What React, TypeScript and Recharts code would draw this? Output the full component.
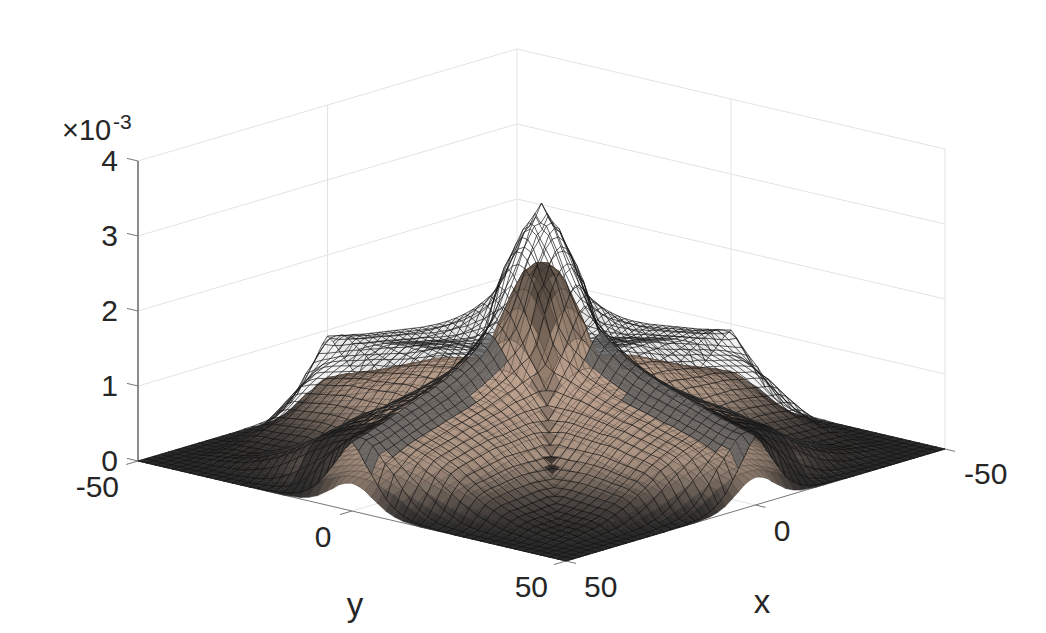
import { ScatterChart, Scatter, XAxis, YAxis } from 'recharts';

const W = 1046;
const H = 633;

// grid nodes of one quadrant (the surfaces repeat across both axes and the diagonal)
const nodes = [0, 1.5, 3, 4.5, 6, 8, 10, 12, 14, 16, 18, 20, 22, 24, 26, 28, 30, 32, 34, 36, 38, 40, 42, 44, 46, 48, 50];

// wire mesh height (x 1e-3), row = larger of |x|,|y|, column = smaller
const meshRows = [
  [3.36],
  [3.2, 3.05],
  [3.06, 2.99, 2.8],
  [2.84, 2.79, 2.64, 2.4],
  [2.63, 2.59, 2.47, 2.29, 2.05],
  [2.38, 2.28, 2.1, 1.88, 1.67, 1.43],
  [2.12, 2.04, 1.88, 1.7, 1.53, 1.35, 1.14],
  [1.96, 1.88, 1.76, 1.6, 1.47, 1.32, 1.16, 1.0],
  [1.84, 1.78, 1.66, 1.52, 1.4, 1.28, 1.14, 1.0, 0.86],
  [1.73, 1.67, 1.56, 1.44, 1.34, 1.23, 1.12, 1.0, 0.87, 0.75],
  [1.64, 1.58, 1.49, 1.38, 1.29, 1.2, 1.11, 1.0, 0.89, 0.78, 0.64],
  [1.56, 1.5, 1.41, 1.32, 1.24, 1.16, 1.08, 0.99, 0.89, 0.8, 0.67, 0.54],
  [1.49, 1.44, 1.36, 1.26, 1.18, 1.12, 1.04, 0.97, 0.87, 0.79, 0.66, 0.55, 0.44],
  [1.43, 1.38, 1.3, 1.21, 1.14, 1.08, 1.02, 0.95, 0.86, 0.78, 0.66, 0.55, 0.45, 0.36],
  [1.38, 1.33, 1.26, 1.17, 1.1, 1.05, 0.99, 0.93, 0.84, 0.77, 0.66, 0.56, 0.46, 0.37, 0.3],
  [1.33, 1.28, 1.21, 1.13, 1.07, 1.02, 0.96, 0.9, 0.84, 0.76, 0.66, 0.56, 0.47, 0.38, 0.31, 0.24],
  [1.29, 1.24, 1.18, 1.1, 1.04, 0.99, 0.95, 0.89, 0.83, 0.76, 0.66, 0.56, 0.47, 0.39, 0.32, 0.26, 0.2],
  [1.25, 1.2, 1.14, 1.07, 1.01, 0.97, 0.92, 0.86, 0.8, 0.74, 0.64, 0.55, 0.46, 0.38, 0.31, 0.25, 0.2, 0.15],
  [1.21, 1.16, 1.11, 1.03, 0.97, 0.93, 0.88, 0.84, 0.78, 0.71, 0.62, 0.53, 0.45, 0.37, 0.3, 0.24, 0.19, 0.15, 0.11],
  [1.17, 1.13, 1.07, 1.0, 0.95, 0.9, 0.86, 0.81, 0.75, 0.69, 0.6, 0.51, 0.43, 0.36, 0.29, 0.23, 0.18, 0.14, 0.11, 0.08],
  [1.13, 1.09, 1.03, 0.96, 0.91, 0.87, 0.83, 0.78, 0.72, 0.67, 0.58, 0.49, 0.42, 0.34, 0.28, 0.22, 0.18, 0.14, 0.1, 0.08, 0.06],
  [1.09, 1.05, 1.0, 0.93, 0.88, 0.84, 0.8, 0.75, 0.7, 0.64, 0.56, 0.48, 0.4, 0.33, 0.27, 0.22, 0.17, 0.13, 0.1, 0.08, 0.06, 0.04],
  [1.05, 1.01, 0.96, 0.89, 0.84, 0.8, 0.76, 0.71, 0.64, 0.59, 0.5, 0.42, 0.35, 0.28, 0.23, 0.18, 0.14, 0.1, 0.08, 0.06, 0.04, 0.03, 0.02],
  [1.02, 0.98, 0.92, 0.85, 0.79, 0.74, 0.68, 0.6, 0.54, 0.46, 0.38, 0.3, 0.23, 0.17, 0.13, 0.09, 0.06, 0.04, 0.03, 0.02, 0.01, 0.01],
  [0.98, 0.95, 0.89, 0.81, 0.74, 0.64, 0.54, 0.45, 0.35, 0.27, 0.19, 0.13, 0.08, 0.05, 0.03, 0.02, 0.01],
  [0.95, 0.94, 0.88, 0.78, 0.68, 0.56, 0.4, 0.27, 0.17, 0.1, 0.06, 0.03, 0.02, 0.01],
  [0.92, 0.82, 0.68, 0.55, 0.42, 0.26, 0.16, 0.09, 0.05, 0.03, 0.02, 0.01, 0.01],
];

// lower filled surface height (x 1e-3), same layout
const surfaceRows = [
  [2.57],
  [2.54, 2.5],
  [2.45, 2.42, 2.3],
  [2.28, 2.24, 2.12, 1.96],
  [2.05, 2.0, 1.9, 1.76, 1.55],
  [1.66, 1.63, 1.56, 1.46, 1.32, 1.18],
  [1.28, 1.27, 1.25, 1.2, 1.15, 1.05, 0.94],
  [1.18, 1.17, 1.15, 1.12, 1.07, 0.99, 0.89, 0.79],
  [1.12, 1.11, 1.1, 1.07, 1.02, 0.95, 0.87, 0.78, 0.69],
  [1.07, 1.06, 1.05, 1.02, 0.98, 0.92, 0.84, 0.76, 0.67, 0.58],
  [1.03, 1.02, 1.01, 0.98, 0.95, 0.89, 0.82, 0.74, 0.66, 0.58, 0.49],
  [1.0, 0.99, 0.98, 0.96, 0.93, 0.88, 0.81, 0.74, 0.67, 0.59, 0.51, 0.44],
  [0.98, 0.98, 0.96, 0.94, 0.91, 0.86, 0.8, 0.73, 0.65, 0.58, 0.5, 0.43, 0.36],
  [0.95, 0.95, 0.93, 0.91, 0.88, 0.83, 0.77, 0.71, 0.63, 0.56, 0.49, 0.42, 0.35, 0.29],
  [0.92, 0.92, 0.9, 0.88, 0.85, 0.81, 0.75, 0.68, 0.61, 0.54, 0.47, 0.4, 0.34, 0.28, 0.23],
  [0.87, 0.87, 0.85, 0.83, 0.81, 0.76, 0.71, 0.65, 0.58, 0.51, 0.45, 0.38, 0.32, 0.26, 0.21, 0.17],
  [0.82, 0.82, 0.81, 0.79, 0.76, 0.72, 0.67, 0.61, 0.55, 0.48, 0.42, 0.36, 0.3, 0.25, 0.2, 0.16, 0.13],
  [0.77, 0.77, 0.76, 0.74, 0.71, 0.67, 0.63, 0.57, 0.51, 0.45, 0.39, 0.34, 0.28, 0.23, 0.19, 0.15, 0.12, 0.09],
  [0.72, 0.72, 0.71, 0.69, 0.67, 0.63, 0.59, 0.53, 0.48, 0.42, 0.37, 0.31, 0.26, 0.22, 0.18, 0.14, 0.11, 0.09, 0.07],
  [0.67, 0.67, 0.66, 0.64, 0.62, 0.59, 0.54, 0.5, 0.45, 0.39, 0.34, 0.29, 0.25, 0.2, 0.17, 0.13, 0.1, 0.08, 0.06, 0.05],
  [0.62, 0.62, 0.61, 0.59, 0.58, 0.54, 0.5, 0.46, 0.41, 0.37, 0.32, 0.27, 0.23, 0.19, 0.15, 0.12, 0.1, 0.07, 0.06, 0.04, 0.03],
  [0.57, 0.57, 0.56, 0.55, 0.53, 0.5, 0.46, 0.42, 0.38, 0.34, 0.29, 0.25, 0.21, 0.17, 0.14, 0.11, 0.09, 0.07, 0.05, 0.04, 0.03, 0.02],
  [0.53, 0.53, 0.52, 0.51, 0.49, 0.46, 0.42, 0.38, 0.34, 0.3, 0.25, 0.21, 0.18, 0.14, 0.11, 0.09, 0.07, 0.05, 0.04, 0.03, 0.02, 0.01, 0.01],
  [0.49, 0.49, 0.48, 0.46, 0.44, 0.4, 0.36, 0.31, 0.27, 0.22, 0.18, 0.14, 0.11, 0.08, 0.06, 0.04, 0.03, 0.02, 0.01, 0.01, 0.01],
  [0.45, 0.45, 0.43, 0.41, 0.37, 0.32, 0.27, 0.22, 0.17, 0.12, 0.09, 0.06, 0.04, 0.02, 0.01, 0.01],
  [0.41, 0.41, 0.4, 0.37, 0.33, 0.29, 0.22, 0.15, 0.1, 0.06, 0.03, 0.02, 0.01],
  [0.37, 0.35, 0.31, 0.24, 0.18, 0.1, 0.05, 0.02, 0.01],
];

const xTicks = [-50, 0, 50];
const yTicks = [-50, 0, 50];
const zTicks = [0, 1, 2, 3, 4];

// viewing projection of the 3D box onto the picture plane
const project = (x: number, y: number, z: number) => ({
  px: 541.5 - 3.79 * x + 4.28 * y,
  py: 455 + 1.12 * x + 1.0 * y - 75 * z,
});
const depthOf = (x: number, y: number, z: number) => 4.28 * x + 3.79 * y + 71.5 * z;

const axis = [...nodes.slice(1).reverse().map(n => -n), ...nodes];
const mid = nodes.length - 1;
const heightAt = (rows: number[][], i: number, j: number) => {
  const a = Math.abs(i - mid);
  const b = Math.abs(j - mid);
  return rows[Math.max(a, b)][Math.min(a, b)] ?? 0;
};

const tone: [number, number[]][] = [
  [0, [38, 38, 38]],
  [0.04, [40, 40, 39]],
  [0.1, [52, 49, 47]],
  [0.2, [78, 70, 65]],
  [0.35, [125, 110, 98]],
  [0.55, [175, 150, 132]],
  [1.2, [198, 168, 147]],
  [1.5, [178, 152, 132]],
  [2.0, [128, 110, 96]],
  [2.57, [100, 88, 78]],
];
const toneAt = (z: number, k: number) => {
  let s = 0;
  while (s < tone.length - 2 && z > tone[s + 1][0]) s++;
  const [z0, c0] = tone[s];
  const [z1, c1] = tone[s + 1];
  const t = Math.min(1, Math.max(0, (z - z0) / (z1 - z0)));
  const c = c0.map((v, n) => Math.round((v + (c1[n] - v) * t) * k));
  return `rgb(${c[0]},${c[1]},${c[2]})`;
};

type Cell = { px: number; py: number; depth: number; d: string; wire: string; fill: string; stroke: string; sw: number };

const meshFill = (xc: number, yc: number, ratio: number) => {
  const a = Math.max(Math.abs(xc), Math.abs(yc));
  const lo = Math.min(xc, yc);
  const hi = Math.max(xc, yc);
  // front ridges read as grey ribbons, their far side as a dark patch
  if (lo > 0 && hi > 14 && lo < (hi > 45 || hi < 24 ? 3.9 : 5.5)) return 'rgba(95,95,95,0.78)';
  if (lo < 0 && lo > -16 && hi > 38) return 'rgba(42,42,42,0.72)';
  const alpha = Math.min(0.72, Math.max(a >= 10 ? 0.08 : 0, (0.7 - ratio) * 1.3));
  return alpha > 0.02 ? `rgba(95,95,95,${alpha.toFixed(2)})` : 'none';
};

const buildCells = () => {
  const out: Cell[] = [];
  const n = axis.length;
  const fmt = (v: number) => v.toFixed(1);
  for (const kind of ['surface', 'mesh']) {
    const rows = kind === 'mesh' ? meshRows : surfaceRows;
    for (let i = 0; i < n - 1; i++) {
      for (let j = 0; j < n - 1; j++) {
        const cs = [[i, j], [i + 1, j], [i + 1, j + 1], [i, j + 1]].map(([a, b]) => {
          const z = heightAt(rows, a, b);
          return { ...project(axis[a], axis[b], z), z };
        });
        const px = cs.reduce((s, c) => s + c.px, 0) / 4;
        const py = cs.reduce((s, c) => s + c.py, 0) / 4;
        const zc = cs.reduce((s, c) => s + c.z, 0) / 4;
        const xc = (axis[i] + axis[i + 1]) / 2;
        const yc = (axis[j] + axis[j + 1]) / 2;
        const dx = axis[i + 1] - axis[i];
        const dy = axis[j + 1] - axis[j];
        const rel = cs.map(c => `${fmt(c.px - px)} ${fmt(c.py - py)}`);
        let area = 0;
        cs.forEach((c, q) => {
          const e = cs[(q + 1) % 4];
          area += c.px * e.py - e.px * c.py;
        });
        const ratio = Math.abs(area / 2) / (dx * dy * 8.58);
        const quad = `M${rel.join('L')}Z`;
        if (kind === 'surface') {
          const off = Math.abs(xc - yc);
          const along = (xc + yc) / 2;
          let k = 1;
          if (xc > 0 && yc > 0 && along < 22 && off < (along > 8 ? 1 : 3)) k = along > 18 ? 0.4 : 0.78;
          out.push({
            px, py,
            depth: depthOf(xc, yc, zc),
            d: quad,
            wire: quad,
            fill: toneAt(zc, k),
            stroke: 'rgba(40,32,28,0.55)',
            sw: 0.5,
          });
        } else {
          const ink = 0.95 * Math.min(1, Math.max(0.2, ratio * 2 + 0.15));
          let wire = `M${rel[1]}L${rel[0]}L${rel[3]}`;
          if (i === n - 2) wire += `M${rel[1]}L${rel[2]}`;
          if (j === n - 2) wire += `M${rel[3]}L${rel[2]}`;
          out.push({
            px, py,
            depth: depthOf(xc, yc, zc) + 0.4,
            d: quad,
            wire,
            fill: meshFill(xc, yc, ratio),
            stroke: `rgba(15,15,15,${ink.toFixed(2)})`,
            sw: 0.7,
          });
        }
      }
    }
  }
  return out.sort((a, b) => a.depth - b.depth);
};

const cells = buildCells();

const CellShape = (p: any) => {
  const c = p.payload as Cell;
  return (
    <g transform={`translate(${p.cx} ${p.cy})`}>
      {c.fill !== 'none' && <path d={c.d} fill={c.fill} stroke={c.fill} strokeWidth={0.3} />}
      <path d={c.wire} fill="none" stroke={c.stroke} strokeWidth={c.sw} />
    </g>
  );
};
const NoDot = () => null;

const seg = (a: [number, number, number], b: [number, number, number]) => [project(...a), project(...b)];
const top = zTicks[zTicks.length - 1];

// back walls: light grid
const wallLines = [
  ...zTicks.flatMap(z => [seg([50, -50, z], [-50, -50, z]), seg([-50, -50, z], [-50, 50, z])]),
  ...[50, 0, -50].map(x => seg([x, -50, 0], [x, -50, top])),
  ...[0, 50].map(y => seg([-50, y, 0], [-50, y, top])),
  seg([0, -50, 0], [0, 50, 0]),
  seg([50, 0, 0], [-50, 0, 0]),
];
const axisLines = [
  seg([50, -50, 0], [50, -50, top]),
  seg([50, -50, 0], [50, 50, 0]),
  seg([50, 50, 0], [-50, 50, 0]),
];
const tickLines = [
  ...zTicks.map(z => {
    const a = project(50, -50, z);
    return [a, { px: a.px - 11, py: a.py - 2.6 }];
  }),
  ...yTicks.map(y => {
    const a = project(50, y, 0);
    return [a, { px: a.px - 12, py: a.py + 3.5 }];
  }),
  ...xTicks.map(x => {
    const a = project(x, 50, 0);
    return [a, { px: a.px + 10, py: a.py + 2.4 }];
  }),
];

type Lab = { px: number; py: number; text: string; size: number; anchor: string };
const labels: Lab[] = [
  ...zTicks.map(z => ({ px: 118, py: project(50, -50, z).py + 10, text: String(z), size: 30, anchor: 'end' })),
  { px: 119, py: 497, text: '-50', size: 30, anchor: 'end' },
  { px: 323, py: 547, text: '0', size: 30, anchor: 'middle' },
  { px: 548, py: 597, text: '50', size: 30, anchor: 'end' },
  { px: 584, py: 597, text: '50', size: 30, anchor: 'start' },
  { px: 782, py: 541, text: '0', size: 30, anchor: 'middle' },
  { px: 964, py: 484, text: '-50', size: 30, anchor: 'start' },
  { px: 355, py: 616, text: 'y', size: 33, anchor: 'middle' },
  { px: 762, py: 613, text: 'x', size: 33, anchor: 'middle' },
  { px: 62, py: 140, text: '×10', size: 29, anchor: 'start' },
  { px: 113, py: 129, text: '-3', size: 21, anchor: 'start' },
];

const LabelShape = (p: any) => {
  const l = p.payload as Lab;
  return (
    <text x={p.cx} y={p.cy} fontSize={l.size} textAnchor={l.anchor as any} fill="#262626" fontFamily="'Liberation Sans', Arial, sans-serif">
      {l.text}
    </text>
  );
};

export default function App() {
  return (
    <div style={{ position: 'absolute', left: 0, top: 0, width: W, height: H, background: '#fff' }}>
      <ScatterChart width={W} height={H} margin={{ top: 0, right: 0, bottom: 0, left: 0 }}>
        <XAxis type="number" dataKey="px" domain={[0, W]} hide />
        <YAxis type="number" dataKey="py" domain={[0, H]} reversed hide />
        {wallLines.map((l, i) => (
          <Scatter key={`w${i}`} data={l} shape={NoDot} line={{ stroke: '#e3e3e3', strokeWidth: 1 }} isAnimationActive={false} />
        ))}
        {axisLines.map((l, i) => (
          <Scatter key={`a${i}`} data={l} shape={NoDot} line={{ stroke: i === 0 ? '#262626' : '#777', strokeWidth: 1 }} isAnimationActive={false} />
        ))}
        {tickLines.map((l, i) => (
          <Scatter key={`t${i}`} data={l} shape={NoDot} line={{ stroke: '#777', strokeWidth: 1 }} isAnimationActive={false} />
        ))}
        <Scatter data={cells} shape={CellShape} isAnimationActive={false} />
        <Scatter data={labels} shape={LabelShape} isAnimationActive={false} />
      </ScatterChart>
    </div>
  );
}
